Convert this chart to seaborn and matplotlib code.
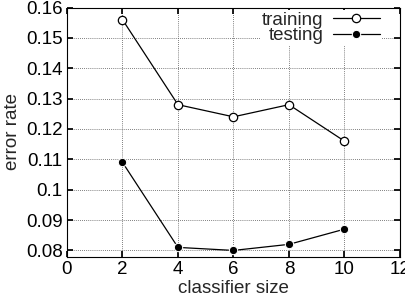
import matplotlib
matplotlib.use("Agg")
import matplotlib.pyplot as plt
import seaborn as sns
import pandas as pd

# Data
classifier_size = [2, 4, 6, 8, 10]
training_error = [0.156, 0.128, 0.124, 0.128, 0.116]
testing_error = [0.109, 0.081, 0.080, 0.082, 0.087]

df = pd.DataFrame({
    'size': classifier_size * 2,
    'error': training_error + testing_error,
    'set': ['training'] * len(classifier_size) + ['testing'] * len(classifier_size),
})

sns.set_theme(style="ticks")
plt.rcParams['font.family'] = ['Liberation Sans', 'DejaVu Sans']

fig, ax = plt.subplots(figsize=(4.06, 3.0), dpi=100)

sns.lineplot(data=df, x='size', y='error', hue='set', style='set',
             palette={'training': 'black', 'testing': 'black'},
             markers={'training': 'o', 'testing': 'o'},
             dashes=False, linewidth=0.9, markersize=6, ax=ax, legend=False)

# hollow markers for training
lines = ax.get_lines()
lines[0].set_markerfacecolor('white')
lines[0].set_markeredgecolor('black')
lines[0].set_markeredgewidth(0.9)
lines[0].set_label('training')
lines[1].set_markerfacecolor('black')
lines[1].set_label('testing')

fs = 13.5
ax.set_xlim(0, 12)
ax.set_ylim(0.078, 0.16)
ax.set_xticks([0, 2, 4, 6, 8, 10, 12])
ax.set_yticks([0.08, 0.09, 0.1, 0.11, 0.12, 0.13, 0.14, 0.15, 0.16])
ax.set_yticklabels(['0.08', '0.09', '0.1', '0.11', '0.12', '0.13', '0.14', '0.15', '0.16'])
ax.grid(True, linestyle=(0, (1, 1.5)), color='#555555', linewidth=0.6)
ax.tick_params(direction='in', length=4, labelsize=fs, top=True, right=True,
               colors='black', pad=3)
for s in ax.spines.values():
    s.set_color('black')
    s.set_linewidth(0.8)

ax.set_xlabel('classifier size', fontsize=fs, labelpad=2)
ax.set_ylabel('error rate', fontsize=fs, labelpad=4)

ax.legend(handles=lines[:2], loc='upper right', bbox_to_anchor=(0.945, 0.99),
          frameon=True, edgecolor='none',
          framealpha=1, fancybox=False, markerfirst=False, handlelength=2.5,
          fontsize=fs, borderpad=0.1, labelspacing=-0.1, handletextpad=0.5,
          borderaxespad=0)

fig.subplots_adjust(left=0.165, right=0.985, top=0.975, bottom=0.145)
fig.savefig('out.png', dpi=100, facecolor='white')
